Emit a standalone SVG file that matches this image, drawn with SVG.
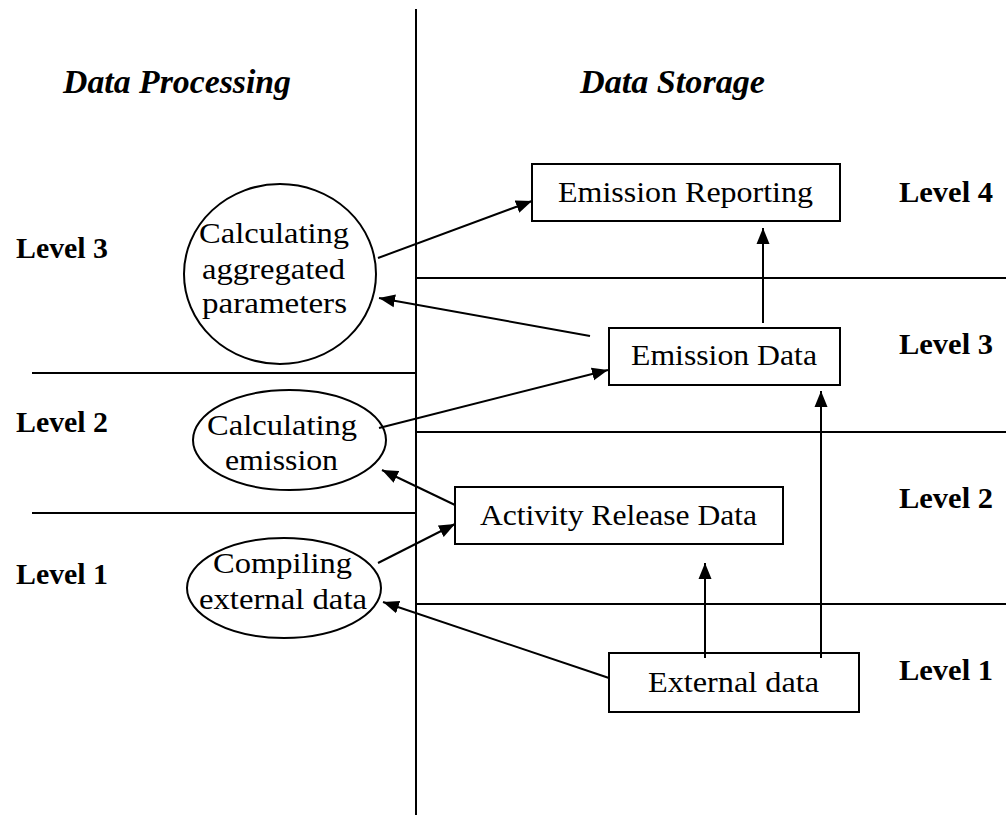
<svg xmlns="http://www.w3.org/2000/svg" width="1006" height="815" viewBox="0 0 1006 815">
<defs>
<marker id="ah" markerUnits="userSpaceOnUse" markerWidth="17" markerHeight="14" refX="16" refY="7" orient="auto">
<path d="M0,0.5 L16,7 L0,13.5 z" fill="#000"/>
</marker>
<style>
.ln{stroke:#000;stroke-width:2;fill:none}
.shape{stroke:#000;stroke-width:2;fill:#fff}
.t{font-family:"Liberation Serif","Times New Roman",serif;font-size:30px;fill:#000}
.lv{font-family:"Liberation Serif","Times New Roman",serif;font-size:29px;font-weight:bold;fill:#000}
.ttl{font-family:"Liberation Serif","Times New Roman",serif;font-size:34px;font-weight:bold;font-style:italic;fill:#000}
.cn{stroke:#000;stroke-width:2;fill:none;marker-end:url(#ah)}
</style>
</defs>
<rect width="1006" height="815" fill="#fff"/>
<g id="dividers">
<line class="ln" x1="416" y1="9" x2="416" y2="815"/>
<line class="ln" x1="416" y1="278" x2="1006" y2="278"/>
<line class="ln" x1="416" y1="432" x2="1006" y2="432"/>
<line class="ln" x1="416" y1="604" x2="1006" y2="604"/>
<line class="ln" x1="32" y1="373" x2="416" y2="373"/>
<line class="ln" x1="32" y1="513" x2="416" y2="513"/>
</g>
<g id="labels">
<text class="ttl" x="63" y="93" textLength="228" lengthAdjust="spacingAndGlyphs">Data Processing</text>
<text class="ttl" x="580" y="93" textLength="185" lengthAdjust="spacingAndGlyphs">Data Storage</text>
<text class="lv" x="16" y="258" textLength="92" lengthAdjust="spacingAndGlyphs">Level 3</text>
<text class="lv" x="16" y="432" textLength="92" lengthAdjust="spacingAndGlyphs">Level 2</text>
<text class="lv" x="16" y="584" textLength="92" lengthAdjust="spacingAndGlyphs">Level 1</text>
<text class="lv" x="899" y="202" textLength="94" lengthAdjust="spacingAndGlyphs">Level 4</text>
<text class="lv" x="899" y="354" textLength="94" lengthAdjust="spacingAndGlyphs">Level 3</text>
<text class="lv" x="899" y="508" textLength="94" lengthAdjust="spacingAndGlyphs">Level 2</text>
<text class="lv" x="899" y="680" textLength="94" lengthAdjust="spacingAndGlyphs">Level 1</text>
</g>
<g id="node-aggregated">
<ellipse class="shape" cx="280" cy="274" rx="96" ry="90"/>
<text class="t" x="199" y="243" textLength="150" lengthAdjust="spacingAndGlyphs">Calculating</text>
<text class="t" x="202" y="279" textLength="143" lengthAdjust="spacingAndGlyphs">aggregated</text>
<text class="t" x="202" y="313" textLength="145" lengthAdjust="spacingAndGlyphs">parameters</text>
</g>
<g id="node-calc-emission">
<ellipse class="shape" cx="289.5" cy="440" rx="96.5" ry="50"/>
<text class="t" x="207" y="435" textLength="150" lengthAdjust="spacingAndGlyphs">Calculating</text>
<text class="t" x="225" y="470" textLength="113" lengthAdjust="spacingAndGlyphs">emission</text>
</g>
<g id="node-compiling">
<ellipse class="shape" cx="284" cy="588" rx="97" ry="50"/>
<text class="t" x="213" y="573" textLength="139" lengthAdjust="spacingAndGlyphs">Compiling</text>
<text class="t" x="199" y="609" textLength="168" lengthAdjust="spacingAndGlyphs">external data</text>
</g>
<g id="node-emission-reporting">
<rect class="shape" x="532" y="164" width="308" height="57"/>
<text class="t" x="558" y="202" textLength="255" lengthAdjust="spacingAndGlyphs">Emission Reporting</text>
</g>
<g id="node-emission-data">
<rect class="shape" x="609" y="328" width="231" height="57"/>
<text class="t" x="631" y="365" textLength="186" lengthAdjust="spacingAndGlyphs">Emission Data</text>
</g>
<g id="node-activity">
<rect class="shape" x="455" y="487" width="328" height="57"/>
<text class="t" x="480" y="525" textLength="277" lengthAdjust="spacingAndGlyphs">Activity Release Data</text>
</g>
<g id="node-external">
<rect class="shape" x="609" y="653" width="250" height="59"/>
<text class="t" x="648" y="692" textLength="171" lengthAdjust="spacingAndGlyphs">External data</text>
</g>
<g id="connectors">
<line class="cn" x1="378" y1="258" x2="532" y2="201"/>
<line class="cn" x1="590" y1="336" x2="379" y2="298"/>
<line class="cn" x1="763" y1="323" x2="763" y2="228"/>
<line class="cn" x1="821" y1="658" x2="821" y2="391"/>
<line class="cn" x1="705" y1="658" x2="705" y2="563"/>
<line class="cn" x1="379" y1="428" x2="608" y2="370"/>
<line class="cn" x1="455" y1="505" x2="382" y2="470"/>
<line class="cn" x1="378" y1="563" x2="455" y2="524"/>
<line class="cn" x1="609" y1="678" x2="383" y2="602"/>
</g>
</svg>
